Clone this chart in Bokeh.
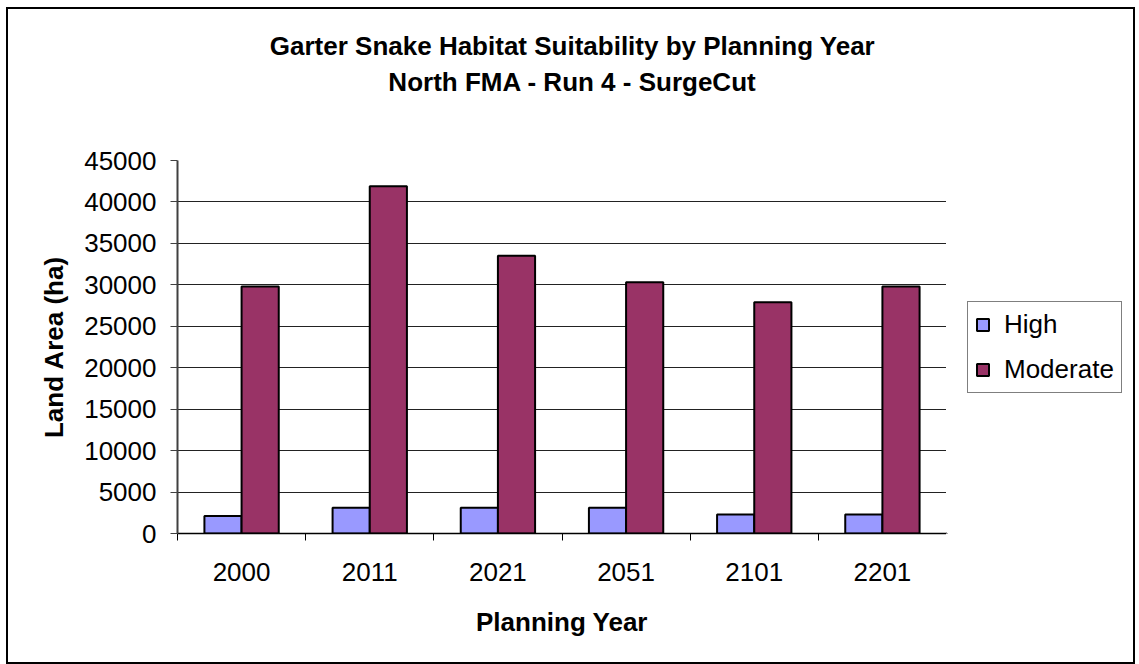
import numpy as np
from bokeh.plotting import figure
from bokeh.layouts import column, row
from bokeh.models import (ColumnDataSource, FixedTicker, Legend, LegendItem, Label)
from bokeh.embed import file_html
from bokeh.resources import INLINE

# ---- data ----
years = ["2000", "2011", "2021", "2051", "2101", "2201"]
high = [2100, 3100, 3100, 3100, 2300, 2300]
moderate = [29800, 41900, 33500, 30300, 27900, 29800]
series_names = ["High", "Moderate"]
series_colors = ["#9999FF", "#993366"]
y_ticks = list(range(0, 45001, 5000))

title_line1 = "Garter Snake Habitat Suitability by Planning Year"
title_line2 = "North FMA - Run 4 - SurgeCut"
x_title = "Planning Year"
y_title = "Land Area (ha)"

FONT = "Liberation Sans"

centers = np.arange(len(years)) + 0.5
bar_w = 0.29

src = ColumnDataSource(dict(
    xh=centers - bar_w / 2,
    xm=centers + bar_w / 2,
    high=high,
    moderate=moderate,
))

# ---------------- title strip ----------------
TW, TH = 1125, 131
tfig = figure(width=TW, height=TH, output_backend="svg", toolbar_location=None,
              x_range=(0, TW), y_range=(0, TH), x_axis_type=None, y_axis_type=None,
              min_border=0)
tfig.outline_line_color = None
tfig.xgrid.visible = False
tfig.ygrid.visible = False
for txt, yy in ((title_line1, 95), (title_line2, 59)):
    tfig.add_layout(Label(x=564, y=yy, text=txt, text_font=FONT,
                          text_font_size="26px", text_font_style="bold",
                          text_align="center", text_baseline="middle",
                          text_color="black"))

# ---------------- main chart ----------------
p = figure(frame_width=769, frame_height=373, output_backend="svg",
           toolbar_location=None,
           x_range=(0, len(years)), y_range=(0, 45000),
           min_border_left=169, min_border_top=20, min_border_right=0,
           min_border_bottom=129)
p.outline_line_color = None

r_high = p.vbar(x="xh", top="high", width=bar_w, source=src,
                fill_color=series_colors[0], line_color="black", line_width=2)
r_mod = p.vbar(x="xm", top="moderate", width=bar_w, source=src,
               fill_color=series_colors[1], line_color="black", line_width=2)

xax = p.xaxis[0]
xax.ticker = FixedTicker(ticks=list(centers),
                         minor_ticks=list(range(len(years) + 1)))
xax.major_label_overrides = {float(c): y for c, y in zip(centers, years)}
xax.major_tick_out = 0
xax.major_tick_in = 0
xax.minor_tick_out = 7
xax.minor_tick_in = 0
xax.minor_tick_line_color = "black"
xax.axis_line_color = "black"
xax.axis_line_width = 1.5
xax.major_label_text_font = FONT
xax.major_label_text_font_size = "26px"
xax.major_label_text_color = "black"
xax.major_label_standoff = 22
xax.axis_label = x_title
xax.axis_label_text_font = FONT
xax.axis_label_text_font_size = "26px"
xax.axis_label_text_font_style = "bold"
xax.axis_label_text_color = "black"
xax.axis_label_standoff = 23

yax = p.yaxis[0]
yax.ticker = FixedTicker(ticks=y_ticks)
yax.minor_tick_line_color = None
yax.major_tick_out = 7
yax.major_tick_in = 0
yax.major_tick_line_color = "#404040"
yax.axis_line_color = "#404040"
yax.axis_line_width = 2
yax.major_label_text_font = FONT
yax.major_label_text_font_size = "26px"
yax.major_label_text_color = "black"
yax.major_label_standoff = 14
yax.axis_label = y_title
yax.axis_label_text_font = FONT
yax.axis_label_text_font_size = "26px"
yax.axis_label_text_font_style = "bold"
yax.axis_label_text_color = "black"
yax.axis_label_standoff = 12

p.xgrid.grid_line_color = None
p.ygrid.ticker = FixedTicker(ticks=y_ticks)
p.ygrid.grid_line_color = "#222222"
p.ygrid.grid_line_width = 1

# ---------------- legend panel ----------------
LW, LH = 187, 522
lfig = figure(width=LW, height=LH, output_backend="svg", toolbar_location=None,
              x_range=(0, 1), y_range=(0, 1), x_axis_type=None, y_axis_type=None,
              min_border=0)
lfig.outline_line_color = None
lfig.xgrid.visible = False
lfig.ygrid.visible = False
# proxy glyphs kept outside the visible range; only their legend swatches show
proxy = ColumnDataSource(dict(x=[-10], top=[-10]))
lh = lfig.vbar(x="x", top="top", width=0.1, source=proxy,
               fill_color=series_colors[0], line_color="black", line_width=2)
lm = lfig.vbar(x="x", top="top", width=0.1, source=proxy,
               fill_color=series_colors[1], line_color="black", line_width=2)
legend = Legend(items=[LegendItem(label=series_names[0], renderers=[lh]),
                       LegendItem(label=series_names[1], renderers=[lm])],
                location=(21, 140), orientation="vertical")
legend.label_text_font = FONT
legend.label_text_font_size = "26px"
legend.label_text_color = "black"
legend.glyph_width = 15
legend.glyph_height = 15
legend.label_height = 30
legend.label_standoff = 14
legend.spacing = 14
legend.padding = 7
legend.margin = 0
legend.border_line_color = "black"
legend.border_line_width = 1
legend.background_fill_alpha = 1
lfig.add_layout(legend, "center")

layout = column(tfig, row(p, lfig, spacing=0), spacing=0)
layout.styles = {"border": "2px solid black", "margin-left": "6px",
                 "margin-top": "7px", "width": "fit-content"}

open("out.html", "w").write(file_html(layout, INLINE))
